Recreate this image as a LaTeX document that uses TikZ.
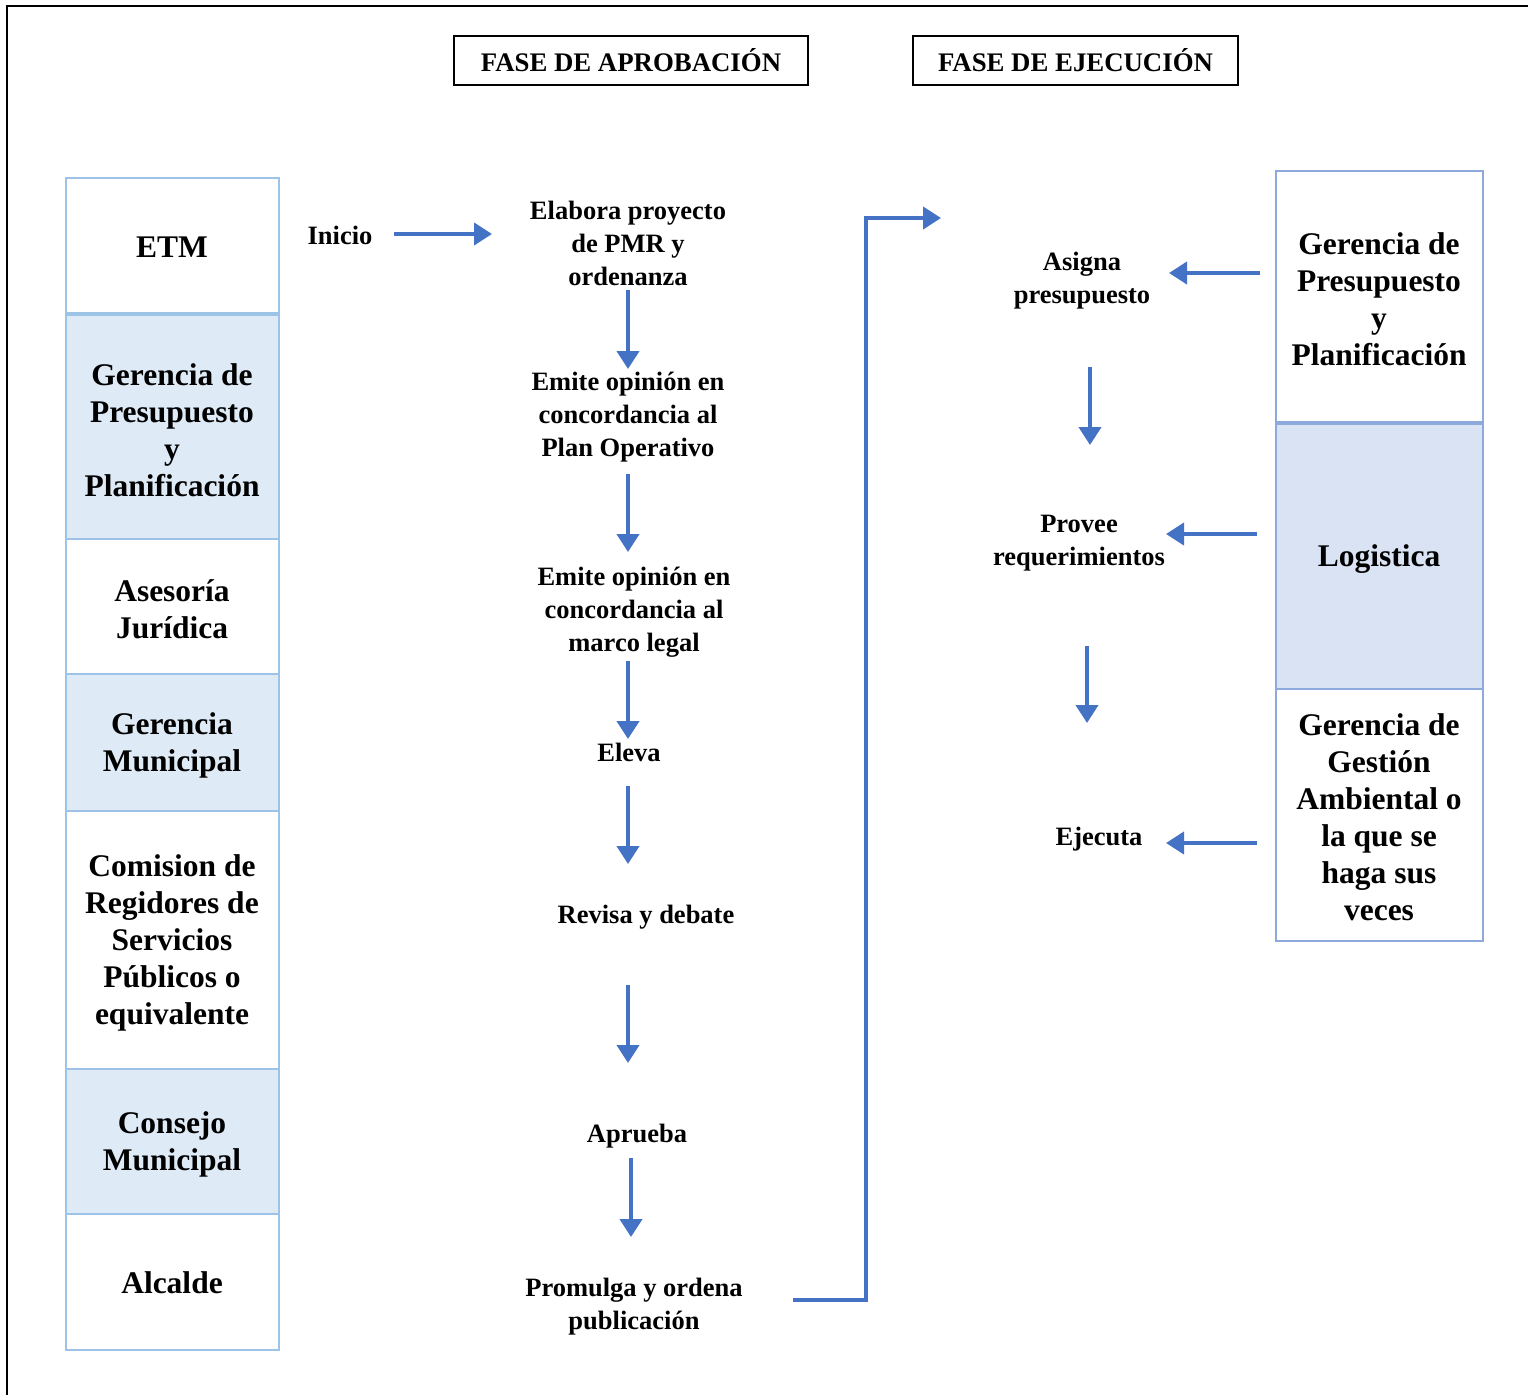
\documentclass[tikz,border=0pt]{standalone}
\usepackage{fontspec}
\setmainfont{Liberation Serif}
\usetikzlibrary{arrows.meta}
\definecolor{arr}{HTML}{4472C4}
\definecolor{lbord}{HTML}{9DC3E6}
\definecolor{lfill}{HTML}{DEEAF6}
\definecolor{rbord}{HTML}{8EA9DB}
\definecolor{rfill}{HTML}{DAE3F3}
\tikzset{
  cellL/.style={draw=lbord,line width=2pt},
  cellR/.style={draw=rbord,line width=2pt},
  celltext/.style={font=\bfseries\fontsize{31.5}{37}\selectfont,align=center,inner sep=0pt},
  midtext/.style={font=\bfseries\fontsize{26.5}{33}\selectfont,align=center,inner sep=0pt},
  hdr/.style={draw=black,line width=2pt,font=\bfseries\fontsize{26.8}{30}\selectfont,inner sep=0pt},
  flow/.style={draw=arr,line width=4pt,-{Triangle[length=18pt,width=22pt]}},
}
\begin{document}
\begin{tikzpicture}[x=1pt,y=-1pt]
\useasboundingbox (0,0) rectangle (1528,1395);
\fill[white] (0,0) rectangle (1528,1395);
% outer frame
\draw[line width=2.5pt] (7,1395) -- (7,6) -- (1528,6);
% headers
\node[hdr,minimum width=354pt,minimum height=49pt] (h1) at (631,60.5) {FASE DE APROBACIÓN};
\node[hdr,minimum width=325pt,minimum height=49pt] (h2) at (1075.5,60.5) {FASE DE EJECUCIÓN};
% left column
\fill[white] (66,178) rectangle (279,314);
\fill[lfill] (66,314) rectangle (279,539);
\fill[white] (66,539) rectangle (279,674);
\fill[lfill] (66,674) rectangle (279,811);
\fill[white] (66,811) rectangle (279,1069);
\fill[lfill] (66,1069) rectangle (279,1214);
\fill[white] (66,1214) rectangle (279,1350);
\draw[cellL] (66,178) rectangle (279,314);
\draw[cellL,line width=4pt] (66,314) -- (279,314);
\draw[cellL] (66,314) rectangle (279,539);
\draw[cellL] (66,539) rectangle (279,674);
\draw[cellL] (66,674) rectangle (279,811);
\draw[cellL] (66,811) rectangle (279,1069);
\draw[cellL] (66,1069) rectangle (279,1214);
\draw[cellL] (66,1214) rectangle (279,1350);
\node[celltext] (l1) at (172,247) {ETM};
\node[celltext] (l2) at (172,430) {Gerencia de\\Presupuesto\\y\\Planificación};
\node[celltext] (l3) at (172,609) {Asesoría\\Jurídica};
\node[celltext] (l4) at (172,745) {Gerencia\\Municipal};
\node[celltext] (l5) at (172,943) {Comision de\\Regidores de\\Servicios\\Públicos o\\equivalente};
\node[celltext] (l6) at (172,1144) {Consejo\\Municipal};
\node[celltext] (l7) at (172,1283) {Alcalde};
% right column
\fill[white] (1276,171) rectangle (1483,422);
\fill[rfill] (1276,422) rectangle (1483,689);
\fill[white] (1276,689) rectangle (1483,941);
\draw[cellR] (1276,171) rectangle (1483,422);
\draw[cellR,line width=4pt] (1276,423) -- (1483,423);
\draw[cellR] (1276,422) rectangle (1483,689);
\draw[cellR] (1276,689) rectangle (1483,941);
\node[celltext] (r1) at (1379,299) {Gerencia de\\Presupuesto\\y\\Planificación};
\node[celltext] (r2) at (1379,559) {Logistica};
\node[celltext] (r3) at (1379,817) {Gerencia de\\Gestión\\Ambiental o\\la que se\\haga sus\\veces};
% middle texts
\node[midtext] (ini) at (340,235) {Inicio};
\node[midtext] (m1) at (628,243) {Elabora proyecto\\de PMR y\\ordenanza};
\node[midtext] (m2) at (628,417) {Emite opinión en\\concordancia al\\Plan Operativo};
\node[midtext] (m3) at (634,612) {Emite opinión en\\concordancia al\\marco legal};
\node[midtext] (m4) at (629,752) {Eleva};
\node[midtext] (m5) at (646,917) {Revisa y debate};
\node[midtext] (m6) at (637,1136) {Aprueba};
\node[midtext] (m7) at (634,1307) {Promulga y ordena\\publicación};
\node[midtext] (e1) at (1082,281) {Asigna\\presupuesto};
\node[midtext] (e2) at (1079,543) {Provee\\requerimientos};
\node[midtext] (e3) at (1099,839) {Ejecuta};
% arrow endpoints
\coordinate (a0s) at (394,234); \coordinate (a0e) at (492,234);
\coordinate (a1s) at (628,290); \coordinate (a1e) at (628,369);
\coordinate (a2s) at (628,474); \coordinate (a2e) at (628,552);
\coordinate (a3s) at (628,661); \coordinate (a3e) at (628,739);
\coordinate (a4s) at (628,786); \coordinate (a4e) at (628,864);
\coordinate (a5s) at (628,985); \coordinate (a5e) at (628,1063);
\coordinate (a6s) at (631,1158); \coordinate (a6e) at (631,1237);
\coordinate (b0s) at (793,1300); \coordinate (b0c) at (866,1300);
\coordinate (b0d) at (866,218); \coordinate (b0e) at (941,218);
\coordinate (c1s) at (1260,273); \coordinate (c1e) at (1169,273);
\coordinate (c2s) at (1090,367); \coordinate (c2e) at (1090,445);
\coordinate (c3s) at (1257,534); \coordinate (c3e) at (1166,534);
\coordinate (c4s) at (1087,646); \coordinate (c4e) at (1087,723);
\coordinate (c5s) at (1257,843); \coordinate (c5e) at (1166,843);
\draw[flow] (a0s) -- (a0e);
\draw[flow] (a1s) -- (a1e);
\draw[flow] (a2s) -- (a2e);
\draw[flow] (a3s) -- (a3e);
\draw[flow] (a4s) -- (a4e);
\draw[flow] (a5s) -- (a5e);
\draw[flow] (a6s) -- (a6e);
\draw[flow] (b0s) -- (b0c) -- (b0d) -- (b0e);
\draw[flow] (c1s) -- (c1e);
\draw[flow] (c2s) -- (c2e);
\draw[flow] (c3s) -- (c3e);
\draw[flow] (c4s) -- (c4e);
\draw[flow] (c5s) -- (c5e);
\end{tikzpicture}
\end{document}
